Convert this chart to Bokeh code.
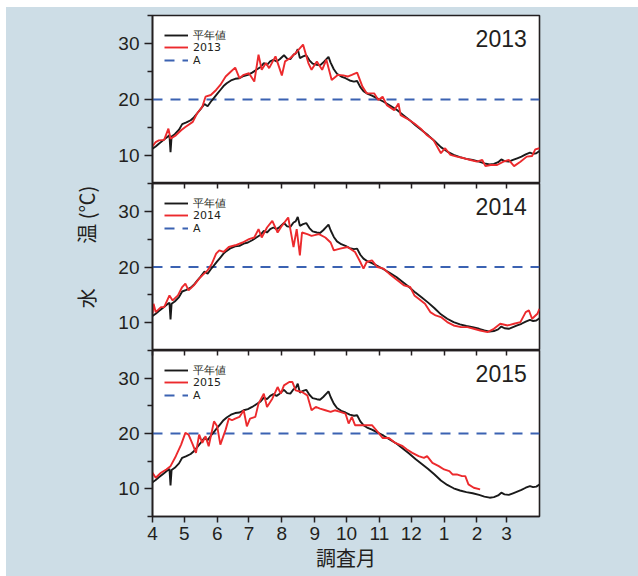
from bokeh.plotting import figure
from bokeh.layouts import column
from bokeh.models import (FixedTicker, LinearAxis, Legend, LegendItem, Label,
                          Range1d)
from bokeh.embed import file_html
from bokeh.resources import INLINE

# ---------------- data ----------------
month_labels = ["4", "5", "6", "7", "8", "9", "10", "11", "12", "1", "2", "3"]
month_start_days = [0, 30, 61, 91, 122, 153, 183, 214, 244, 275, 306, 334]
year_days = 365
temp_ticks = [10, 20, 30]
temp_minor_ticks = [5, 15, 25, 35]
A_LEVEL = 20

normal_days = [0, 3, 6, 10, 14, 16, 17, 18, 21, 25, 28, 32, 36, 39, 42, 45, 49, 52, 55, 58,
               61, 64, 67, 70, 74, 78, 82, 86, 90, 94, 98, 102, 105, 108, 111, 114, 117, 120, 124, 127,
               130, 133, 135, 137, 139, 142, 145, 148, 151, 155, 158, 161, 164, 166, 168, 171, 174, 178, 182, 186,
               190, 193, 196, 199, 203, 207, 212, 218, 224, 230, 236, 242, 248, 254, 260, 266, 272, 278, 284, 290,
               296, 302, 308, 313, 318, 322, 326, 329, 332, 336, 340, 344, 348, 352, 356, 359, 362, 365]
normal_temp = [11.2, 11.6, 12.1, 12.7, 13.3, 13.6, 10.6, 13.4, 13.8, 14.6, 15.6, 15.9, 16.3, 16.8, 17.5, 18.2, 19.2, 18.8, 19.6, 20.3,
               21.0, 21.7, 22.4, 22.9, 23.4, 23.7, 23.8, 24.2, 24.4, 24.8, 25.3, 25.8, 26.5, 26.2, 26.8, 27.1, 26.8, 27.2, 27.9, 27.3,
               27.2, 28.0, 28.2, 29.0, 27.4, 27.7, 27.9, 27.0, 26.4, 26.2, 26.1, 26.6, 27.2, 27.6, 26.6, 25.4, 24.6, 24.1, 23.8, 23.4,
               23.2, 23.3, 22.2, 21.5, 21.0, 20.7, 20.2, 19.6, 18.9, 18.2, 17.3, 16.4, 15.4, 14.5, 13.6, 12.6, 11.5, 10.7, 10.1, 9.7,
               9.4, 9.2, 8.9, 8.6, 8.4, 8.5, 8.8, 9.3, 9.0, 8.9, 9.2, 9.5, 9.8, 10.2, 10.5, 10.3, 10.4, 10.8]

y2013_days = [0, 3, 6, 11, 15, 17, 22, 27, 31, 38, 42, 47, 50, 55, 60, 64, 69, 74, 78, 82,
              86, 91, 96, 100, 103, 107, 110, 116, 122, 125, 130, 135, 142, 147, 150, 155, 160, 164, 169, 175,
              180, 184, 188, 193, 198, 202, 209, 213, 217, 221, 228, 232, 234, 240, 247, 253, 259, 265, 272, 276,
              281, 287, 294, 300, 306, 311, 314, 319, 325, 331, 336, 341, 347, 353, 358, 361, 365]
y2013_temp = [11.6, 12.4, 12.7, 12.8, 14.8, 13.0, 13.6, 14.5, 15.1, 16.0, 17.5, 18.7, 20.5, 20.8, 21.7, 22.6, 24.1, 25.0, 25.7, 23.8,
              24.4, 24.7, 23.2, 28.0, 25.3, 26.5, 25.6, 27.7, 24.3, 26.8, 27.4, 28.3, 29.8, 26.5, 25.3, 26.8, 25.3, 27.1, 23.5, 24.4,
              24.3, 24.1, 24.4, 24.8, 22.3, 21.1, 21.1, 19.9, 20.5, 19.0, 18.1, 19.3, 17.2, 16.6, 15.7, 14.8, 13.6, 12.75, 10.4, 11.3,
              10.1, 9.8, 9.5, 9.2, 8.9, 9.2, 8.1, 8.3, 8.3, 8.9, 9.2, 8.1, 8.9, 9.8, 9.9, 11.1, 11.3]

y2014_days = [0, 1, 3, 8, 11, 16, 19, 24, 28, 31, 34, 39, 44, 47, 52, 56, 60, 63, 67, 72,
              78, 85, 91, 96, 100, 103, 108, 113, 118, 122, 128, 130, 133, 136, 139, 141, 146, 150, 157, 163,
              168, 171, 177, 184, 191, 196, 199, 202, 207, 212, 218, 225, 231, 237, 243, 247, 251, 257, 262, 267,
              272, 278, 284, 291, 297, 303, 309, 316, 322, 328, 335, 341, 347, 352, 355, 358, 363, 365]
y2014_temp = [11.6, 13.4, 11.9, 12.8, 12.8, 14.9, 14.0, 14.9, 16.4, 17.0, 15.8, 16.7, 17.9, 18.5, 19.4, 20.6, 22.4, 23.0, 22.7, 23.6,
              23.9, 24.4, 25.0, 25.3, 26.8, 25.3, 27.1, 28.3, 26.2, 27.4, 28.9, 26.8, 23.6, 26.8, 22.1, 26.2, 25.9, 25.6, 25.9, 25.3,
              24.4, 23.0, 23.3, 23.6, 22.7, 20.9, 19.7, 20.9, 21.2, 20.0, 19.7, 18.5, 17.6, 16.7, 16.4, 14.9, 14.3, 13.4, 11.9, 11.3,
              11.0, 10.1, 9.5, 9.2, 9.2, 8.9, 8.6, 8.3, 8.9, 9.8, 9.5, 9.8, 10.1, 11.9, 12.2, 10.7, 11.6, 12.5]

y2015_days = [0, 3, 8, 13, 17, 22, 27, 31, 34, 38, 41, 44, 47, 50, 53, 58, 61, 64, 69, 72,
              75, 78, 82, 86, 89, 92, 97, 100, 105, 108, 113, 118, 121, 124, 129, 132, 135, 141, 146, 150,
              154, 158, 163, 168, 172, 177, 182, 185, 188, 191, 196, 202, 207, 212, 217, 223, 229, 236, 240, 245,
              251, 256, 259, 264, 270, 275, 280, 283, 287, 292, 295, 298, 303, 309]
y2015_temp = [12.9, 12.0, 12.9, 13.5, 14.1, 15.9, 18.0, 20.1, 19.8, 18.0, 16.5, 19.8, 18.3, 19.5, 17.7, 22.2, 21.3, 18.0, 20.7, 22.7,
              22.4, 22.7, 23.0, 24.2, 21.3, 22.7, 23.0, 25.4, 27.2, 24.8, 26.3, 28.4, 27.2, 28.7, 29.3, 29.3, 27.8, 27.5, 26.9, 24.2,
              24.8, 24.5, 24.2, 23.9, 24.2, 23.9, 23.6, 21.8, 23.0, 21.5, 21.5, 21.5, 21.5, 20.4, 19.2, 19.2, 18.3, 17.7, 17.1, 16.5,
              15.9, 15.6, 15.9, 14.7, 14.1, 13.5, 13.2, 12.6, 12.6, 12.3, 12.3, 10.8, 10.2, 9.9]

panels = [
    ("2013", y2013_days, y2013_temp),
    ("2014", y2014_days, y2014_temp),
    ("2015", y2015_days, y2015_temp),
]

# ---------------- style ----------------
BG = "#cddde6"
INK = "#231f20"
BLACK = "#1a1a1a"
RED = "#ec2a2d"
BLUE = "#3b62b2"
NUM_FONT = "Liberation Sans"
LEG_FONT = "DejaVu Sans"
CJK_FONT = "Noto Sans CJK JP"

fig_heights = [176, 167, 226]
frame_heights = [168, 167, 166]
LEG_ROW_CENTERS = [20, 32, 45]   # px below frame top
LEG_ITEM_H = 20


def make_panel(idx, year, days, temps):
    first = idx == 0
    last = idx == len(panels) - 1
    p = figure(width=632, height=fig_heights[idx],
               x_range=Range1d(0, year_days), y_range=Range1d(temp_minor_ticks[0], temp_minor_ticks[-1]),
               x_axis_location=None, y_axis_location="left",
               output_backend="svg", toolbar_location=None,
               min_border_left=146, min_border_right=99,
               min_border_top=8 if first else 0,
               min_border_bottom=60 if last else 0,
               background_fill_color="white", border_fill_color=BG,
               outline_line_color=INK, outline_line_width=1.6)
    p.grid.visible = False

    yax = p.yaxis[0]
    yax.ticker = FixedTicker(ticks=temp_ticks, minor_ticks=temp_minor_ticks)
    yax.major_tick_out = 8
    yax.major_tick_in = 0
    yax.minor_tick_out = 5
    yax.minor_tick_in = 0
    yax.major_tick_line_width = 1.5
    yax.minor_tick_line_width = 1.5
    yax.major_tick_line_color = INK
    yax.minor_tick_line_color = INK
    yax.axis_line_color = INK
    yax.axis_line_width = 1.6
    yax.major_label_text_font = NUM_FONT
    yax.major_label_text_font_size = "19px"
    yax.major_label_text_color = INK
    yax.major_label_standoff = 5
    if idx == 1:
        yax.axis_label = "\u3000\u3000水\u3000\u3000 温 (℃)"
        yax.axis_label_text_font = CJK_FONT
        yax.axis_label_text_font_size = "20px"
        yax.axis_label_text_font_style = "normal"
        yax.axis_label_text_color = INK
        yax.axis_label_standoff = 14

    xticker = FixedTicker(ticks=month_start_days, minor_ticks=[])
    overrides = {d: lab for d, lab in zip(month_start_days, month_labels)}

    if not first:
        top = LinearAxis(ticker=xticker, major_tick_in=5, major_tick_out=0,
                         minor_tick_in=0, minor_tick_out=0,
                         major_tick_line_color=INK, major_tick_line_width=1.5,
                         axis_line_color=INK, axis_line_width=1.6,
                         major_label_text_font_size="0px", major_label_standoff=0)
        p.add_layout(top, "above")
    if last:
        bot = LinearAxis(ticker=xticker, major_tick_in=0, major_tick_out=6,
                         minor_tick_in=0, minor_tick_out=0,
                         major_tick_line_color=INK, major_tick_line_width=1.5,
                         axis_line_color=INK, axis_line_width=1.6,
                         major_label_overrides=overrides,
                         major_label_text_font=NUM_FONT,
                         major_label_text_font_size="19px",
                         major_label_text_color=INK,
                         major_label_standoff=4,
                         axis_label="調査月",
                         axis_label_text_font=CJK_FONT,
                         axis_label_text_font_size="20px",
                         axis_label_text_font_style="normal",
                         axis_label_text_color=INK,
                         axis_label_standoff=0)
        p.add_layout(bot, "below")

    r_a = p.line([0, year_days], [A_LEVEL, A_LEVEL], line_color=BLUE,
                 line_width=2, line_dash="10 8")
    r_n = p.line(normal_days, normal_temp, line_color=BLACK, line_width=1.9)
    r_y = p.line(days, temps, line_color=RED, line_width=1.9)

    entries = [("平年値", r_n), (year, r_y), ("A", r_a)]
    H = frame_heights[idx]
    for (lab, rend), c in zip(entries, LEG_ROW_CENTERS):
        leg = Legend(items=[LegendItem(label=lab, renderers=[rend])],
                     location=(12, H - c - LEG_ITEM_H / 2), margin=0, padding=0,
                     spacing=0, glyph_width=24, glyph_height=LEG_ITEM_H,
                     label_height=LEG_ITEM_H,
                     label_standoff=5, label_text_font=LEG_FONT,
                     label_text_font_size="11px", label_text_color=INK,
                     border_line_color=None, background_fill_alpha=0)
        p.add_layout(leg)

    p.add_layout(Label(x=353, y=30.9, text=year, text_align="right",
                       text_baseline="middle", text_font=NUM_FONT,
                       text_font_size="23px", text_color=INK))
    return p


figs = [make_panel(i, *pan) for i, pan in enumerate(panels)]
layout = column(*figs, spacing=0, margin=(7, 0, 0, 6),
                styles={"background-color": BG})

open("out.html", "w").write(file_html(layout, INLINE))
